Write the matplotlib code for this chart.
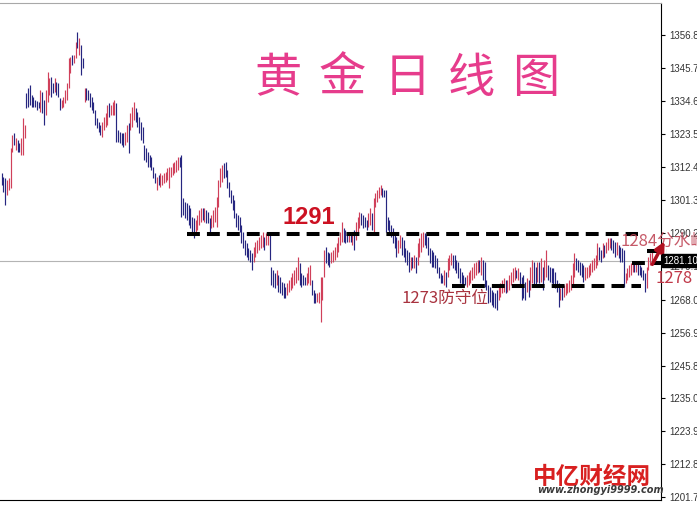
import matplotlib
matplotlib.use('Agg')
from matplotlib import pyplot as plt
from matplotlib.transforms import blended_transform_factory

plt.rcParams['font.family'] = ['Noto Sans CJK SC', 'DejaVu Sans']

# Tagesbalken (Hoch / Tief)
highs = [
    1310.5, 1309.2, 1308.8, 1308.1, 1308.8, 1318.9, 1323.2, 1323.9, 1322.2, 1321.6,
    1320.6, 1322.2, 1328.9, 1326.6, 1337.3, 1339.0, 1340.0, 1336.7, 1336.0, 1335.0,
    1334.6, 1334.3, 1338.3, 1337.7, 1335.0, 1338.3, 1344.4, 1342.4, 1342.7, 1340.7,
    1342.4, 1341.0, 1340.7, 1335.7, 1335.0, 1336.0, 1338.3, 1340.7, 1349.1, 1349.4,
    1350.1, 1350.1, 1354.5, 1357.8, 1355.8, 1353.4, 1349.1, 1339.0, 1339.0, 1338.3,
    1337.3, 1336.0, 1334.3, 1331.6, 1328.9, 1327.6, 1326.6, 1327.6, 1329.3, 1330.6,
    1333.3, 1334.0, 1333.3, 1334.3, 1335.0, 1334.0, 1324.9, 1324.2, 1323.9, 1323.9,
    1324.2, 1326.6, 1327.3, 1330.6, 1332.6, 1334.3, 1332.3, 1330.9, 1329.3, 1327.6,
    1325.9, 1319.9, 1318.9, 1317.5, 1316.5, 1315.9, 1312.5, 1310.5, 1309.2, 1309.8,
    1310.5, 1309.8, 1310.5, 1310.8, 1312.2, 1312.5, 1312.5, 1313.8, 1314.2, 1314.9,
    1315.9, 1315.9, 1316.5, 1302.1, 1300.8, 1300.4, 1299.8, 1298.8, 1295.7, 1295.4,
    1294.7, 1296.4, 1298.1, 1298.8, 1298.8, 1298.8, 1298.1, 1297.4, 1295.4, 1296.4,
    1298.1, 1299.1, 1302.5, 1308.1, 1312.2, 1313.2, 1313.8, 1314.2, 1311.5, 1307.5,
    1304.8, 1303.1, 1301.4, 1297.1, 1296.4, 1295.7, 1293.0, 1290.7, 1288.0, 1287.0,
    1285.3, 1284.7, 1283.6, 1285.7, 1287.3, 1288.0, 1289.0, 1289.7, 1290.7, 1289.0,
    1290.4, 1290.7, 1289.7, 1278.9, 1277.9, 1276.9, 1277.9, 1276.3, 1275.6, 1273.9,
    1273.6, 1272.2, 1273.6, 1274.6, 1275.6, 1276.9, 1277.9, 1278.9, 1282.3, 1280.3,
    1276.9, 1276.3, 1275.6, 1276.9, 1278.9, 1279.6, 1274.6, 1271.2, 1270.2, 1270.2,
    1270.6, 1275.6, 1275.6, 1284.7, 1285.7, 1284.0, 1283.6, 1284.0, 1284.7, 1285.7,
    1287.0, 1289.0, 1290.7, 1294.0, 1292.0, 1291.4, 1290.7, 1290.7, 1290.4, 1290.7,
    1291.4, 1294.0, 1295.7, 1297.4, 1297.1, 1296.4, 1295.7, 1294.7, 1297.1, 1298.8,
    1297.1, 1302.1, 1303.8, 1304.8, 1305.8, 1306.5, 1305.5, 1304.8, 1304.8, 1295.7,
    1294.7, 1293.0, 1292.0, 1290.4, 1289.0, 1288.0, 1289.7, 1289.0, 1288.0, 1285.3,
    1284.7, 1284.0, 1282.3, 1282.3, 1283.0, 1282.3, 1287.0, 1288.7, 1290.4, 1290.7,
    1290.4, 1289.7, 1289.0, 1285.3, 1284.7, 1284.0, 1283.0, 1282.0, 1278.9, 1276.9,
    1276.3, 1277.9, 1277.3, 1282.0, 1283.0, 1283.6, 1283.0, 1283.0, 1281.3, 1280.6,
    1278.6, 1277.3, 1276.3, 1275.6, 1276.3, 1277.3, 1277.9, 1278.9, 1280.3, 1280.6,
    1281.3, 1281.3, 1282.3, 1281.3, 1280.6, 1274.6, 1272.9, 1272.2, 1271.2, 1270.6,
    1270.2, 1271.2, 1272.2, 1273.6, 1274.6, 1275.3, 1274.6, 1274.6, 1276.3, 1277.3,
    1278.6, 1278.9, 1277.9, 1278.6, 1277.3, 1275.6, 1276.3, 1273.9, 1275.3, 1274.6,
    1278.9, 1281.3, 1280.6, 1278.9, 1280.6, 1280.6, 1282.0, 1278.9, 1281.3, 1284.7,
    1279.6, 1278.9, 1278.6, 1278.6, 1277.3, 1274.6, 1273.6, 1271.9, 1272.2, 1272.9,
    1273.6, 1273.6, 1274.6, 1276.3, 1280.3, 1283.6, 1282.0, 1281.3, 1280.6, 1280.3,
    1279.6, 1278.9, 1278.9, 1279.6, 1280.3, 1281.3, 1282.0, 1283.0, 1287.0, 1285.7,
    1284.7, 1287.0, 1286.3, 1287.3, 1288.7, 1288.7, 1288.7, 1288.0, 1287.3, 1287.3,
    1286.3, 1285.7, 1285.3, 1284.7, 1276.9, 1278.6, 1279.6, 1280.3, 1280.6, 1280.3,
    1280.6, 1280.3, 1279.6, 1278.9, 1277.9, 1276.9, 1278.9, 1282.3, 1283.6, 1284.7,
]
lows = [
    1306.5, 1304.1, 1299.8, 1303.1, 1304.8, 1305.5, 1317.5, 1319.9, 1318.2, 1317.5,
    1317.5, 1316.5, 1316.5, 1322.2, 1332.3, 1332.6, 1333.3, 1332.6, 1332.6, 1332.6,
    1331.6, 1332.3, 1330.9, 1330.6, 1326.6, 1329.9, 1334.3, 1336.7, 1336.0, 1337.3,
    1337.7, 1336.7, 1336.0, 1331.6, 1332.3, 1332.6, 1334.0, 1335.0, 1339.0, 1344.0,
    1346.7, 1347.4, 1349.1, 1352.4, 1350.1, 1343.4, 1345.7, 1334.3, 1335.0, 1335.0,
    1332.6, 1331.6, 1330.6, 1326.6, 1325.6, 1324.2, 1323.2, 1322.6, 1324.9, 1325.9,
    1326.6, 1329.3, 1329.9, 1329.9, 1329.9, 1320.9, 1320.9, 1320.6, 1319.9, 1319.2,
    1319.9, 1320.9, 1317.2, 1324.9, 1325.9, 1328.3, 1327.6, 1325.9, 1323.9, 1321.6,
    1320.6, 1314.9, 1314.2, 1312.5, 1312.5, 1311.5, 1308.8, 1307.1, 1304.8, 1306.5,
    1305.8, 1306.5, 1307.1, 1307.5, 1308.1, 1305.5, 1309.2, 1309.8, 1310.5, 1310.8,
    1311.5, 1312.5, 1295.7, 1296.4, 1295.4, 1294.7, 1293.0, 1292.0, 1290.4, 1288.7,
    1290.7, 1291.4, 1293.0, 1294.0, 1294.7, 1294.0, 1293.7, 1293.7, 1290.4, 1292.0,
    1292.4, 1294.0, 1292.4, 1299.1, 1305.8, 1307.5, 1308.8, 1309.2, 1305.5, 1302.5,
    1300.4, 1298.1, 1295.4, 1292.4, 1291.4, 1290.7, 1287.0, 1285.3, 1283.0, 1282.3,
    1281.3, 1280.6, 1277.9, 1280.6, 1282.3, 1283.6, 1284.7, 1285.3, 1285.7, 1284.7,
    1286.3, 1286.3, 1281.3, 1272.9, 1272.2, 1271.9, 1272.9, 1270.6, 1270.2, 1269.6,
    1268.6, 1268.6, 1269.6, 1270.6, 1271.2, 1271.9, 1272.9, 1273.6, 1274.6, 1272.9,
    1272.2, 1272.9, 1272.9, 1272.9, 1273.6, 1272.9, 1269.6, 1266.9, 1266.9, 1267.2,
    1266.9, 1260.5, 1267.9, 1275.6, 1280.3, 1279.6, 1278.9, 1280.3, 1280.6, 1281.3,
    1282.3, 1284.0, 1286.3, 1287.3, 1287.3, 1287.0, 1287.3, 1287.3, 1287.3, 1286.3,
    1284.7, 1288.0, 1290.4, 1292.0, 1293.0, 1292.0, 1292.4, 1291.4, 1292.4, 1293.0,
    1291.4, 1290.4, 1299.1, 1300.8, 1302.1, 1303.1, 1302.5, 1302.5, 1290.7, 1291.4,
    1289.7, 1289.0, 1287.0, 1285.3, 1282.3, 1283.6, 1285.3, 1283.0, 1282.3, 1280.6,
    1279.6, 1277.3, 1277.9, 1278.6, 1278.6, 1276.9, 1279.6, 1282.3, 1284.0, 1285.7,
    1286.3, 1285.3, 1283.0, 1280.3, 1278.9, 1278.9, 1278.6, 1276.9, 1275.3, 1273.6,
    1273.6, 1272.9, 1272.2, 1275.6, 1277.9, 1279.6, 1278.6, 1277.9, 1276.9, 1275.3,
    1273.6, 1272.9, 1272.2, 1272.9, 1272.2, 1272.9, 1273.6, 1274.6, 1275.3, 1276.3,
    1276.9, 1277.3, 1276.3, 1274.6, 1272.2, 1271.2, 1266.9, 1267.2, 1266.2, 1265.5,
    1265.2, 1264.5, 1267.9, 1268.9, 1270.2, 1270.6, 1270.2, 1270.6, 1271.2, 1272.9,
    1273.9, 1274.6, 1275.3, 1274.6, 1272.2, 1267.9, 1268.6, 1267.9, 1270.6, 1268.9,
    1271.2, 1273.6, 1272.2, 1272.9, 1273.9, 1273.6, 1273.9, 1271.2, 1274.6, 1275.6,
    1274.6, 1273.9, 1273.6, 1272.2, 1271.9, 1270.6, 1265.5, 1267.9, 1267.9, 1268.9,
    1269.6, 1270.2, 1270.6, 1271.2, 1272.9, 1275.6, 1277.9, 1277.3, 1276.3, 1275.6,
    1273.9, 1274.6, 1275.3, 1275.6, 1276.3, 1277.3, 1277.9, 1278.6, 1279.6, 1281.3,
    1280.6, 1282.0, 1282.3, 1283.6, 1284.7, 1285.3, 1284.7, 1283.6, 1282.3, 1283.0,
    1282.0, 1280.6, 1280.6, 1272.2, 1273.6, 1274.6, 1275.6, 1276.3, 1277.3, 1277.3,
    1277.3, 1276.3, 1276.3, 1275.6, 1274.6, 1270.6, 1271.9, 1277.9, 1279.6, 1280.3,
]
# u = Aufwaertsbalken (rot), d = Abwaertsbalken (blau)
dirs = ''.join([
    'ddduuuudud', 'duuudddddd', 'ddudduuudd', 'uddduuuuuu', 'duududdudd',
    'ddddddduuu', 'uduuuddddd', 'uud',
    'uuuddddddd', 'ddddduduuu', 'uuuuuuuudd',
    'ddddddduuu', 'ududdduuuu', 'uuuddddddd', 'dddddddddd', 'uuuuuuduud',
    'dddudddddu', 'uuuuuudddd', 'uuuddduuuu', 'uddduuuuuu', 'udddududuu',
    'udddduuduu', 'uuuddd',
    'dddddduudd', 'dddududuuu', 'uddddddddd', 'dduduuuddd', 'ddddduuuuu',
    'uududddddd', 'ddduuuuduu', 'uuududd',
    'dduduuddud', 'uduudddddd', 'duduuuuuuu', 'ddddduuuuu', 'uuudduduuu',
    'dddudddduu', 'uuududdddd', 'uuuu',
])

price_ticks = [1356.80, 1345.70, 1334.60, 1323.50, 1312.40, 1301.30, 1290.20,
               1279.10, 1268.00, 1256.90, 1245.80, 1235.00, 1223.90, 1212.80, 1201.70]
last_price = 1281.10

level_top = 1290.0      # "1291"
level_bottom = 1272.6   # "1273防守位"
level_mid = 1280.3      # "1278"
level_1284 = 1284.3

title_chars = ['黄', '金', '日', '线', '图']

n = min(len(highs), len(lows), len(dirs))
up_x = [i for i in range(n) if dirs[i] == 'u']
dn_x = [i for i in range(n) if dirs[i] == 'd']

fig = plt.figure(figsize=(6.97, 5.05), dpi=100)
ax = fig.add_axes([0, 5 / 505, 661 / 697, 497 / 505])

step = 650.3 / (n - 1)   # Pixel pro Balken
ax.set_xlim(-1.7 / step, (661 - 1.7) / step)
ax.set_ylim(1200.75, 1367.5)

ax.axhline(last_price, color='#b4b4b4', lw=0.8, zorder=1)

ax.vlines(up_x, [lows[i] for i in up_x], [highs[i] for i in up_x],
          colors='#d0405a', lw=0.85, zorder=2)
ax.vlines(dn_x, [lows[i] for i in dn_x], [highs[i] for i in dn_x],
          colors='#262680', lw=0.85, zorder=2)

def px(x):
    return (x - 1.7) / step

dash = dict(color='black', lw=2.9, linestyle=(0, (3.2, 1.75)), zorder=4)
ax.plot([px(187), px(638)], [level_top, level_top], **dash)
ax.plot([px(452), px(641)], [level_bottom, level_bottom], **dash)
ax.plot([px(632), px(661)], [level_mid, level_mid], clip_on=False, **dash)
ax.plot([px(647), px(667)], [level_1284, level_1284], clip_on=False, **dash)

ax.annotate('', xy=(px(666), 1288.3), xytext=(px(651), 1279.0),
            arrowprops=dict(arrowstyle='-|>', color='#b01020', lw=2.5,
                            mutation_scale=14),
            annotation_clip=False, zorder=6)

ax.text(px(282), 1295.4, '1291', color='#cc1122', fontsize=17,
        fontweight='bold', family=['Liberation Sans', 'DejaVu Sans'],
        va='center', ha='left', zorder=5)
ax.text(px(401), 1268.4, '1273防守位', color='#a8323e', fontsize=12,
        va='center', ha='left', zorder=5)
ax.text(px(620), 1287.6, '1284分水岭', color='#c04858', fontsize=12,
        va='center', ha='left', zorder=5, clip_on=False, alpha=0.9)
ax.text(px(655), 1275.2, '1278', color='#c03848', fontsize=12,
        va='center', ha='left', zorder=5, clip_on=False)

# Achsen
ax.set_xticks([])
ax.yaxis.tick_right()
ax.set_yticks(price_ticks)
ax.set_yticklabels(['%.2f' % v for v in price_ticks],
                   family=['Liberation Sans', 'DejaVu Sans'])
ax.tick_params(axis='y', direction='out', length=3, width=0.8, pad=3,
               labelsize=7, labelcolor='#333333', color='black')
ax.spines['left'].set_visible(False)
ax.spines['top'].set_color('#a8a8a8')
ax.spines['bottom'].set_color('black')
ax.spines['right'].set_color('black')

tr = blended_transform_factory(ax.transAxes, ax.transData)
ax.text(1.003, last_price, '1281.10', transform=tr, color='white', fontsize=7,
        family=['Liberation Sans', 'DejaVu Sans'], va='center', ha='left',
        bbox=dict(boxstyle='square,pad=0.15', fc='black', ec='black'),
        clip_on=False, zorder=7)

# Titel (handschriftlich im Original)
for k, ch in enumerate(title_chars):
    fig.text((278 + 64.5 * k) / 697, 1 - 79 / 505, ch, color='#e63c8c',
             fontsize=34, fontweight='light', ha='center', va='center')

# Logo
fig.text(533 / 697, 1 - 477 / 505, '中亿财经网', color='#d82020', fontsize=17,
         fontweight='bold', style='italic', ha='left', va='center')
fig.text(537 / 697, 1 - 490 / 505, 'www.zhongyi9999.com', color='#3a3a3a',
         fontsize=7, fontweight='bold', style='italic', family='DejaVu Sans',
         ha='left', va='center')

fig.savefig('out.png', dpi=100)
